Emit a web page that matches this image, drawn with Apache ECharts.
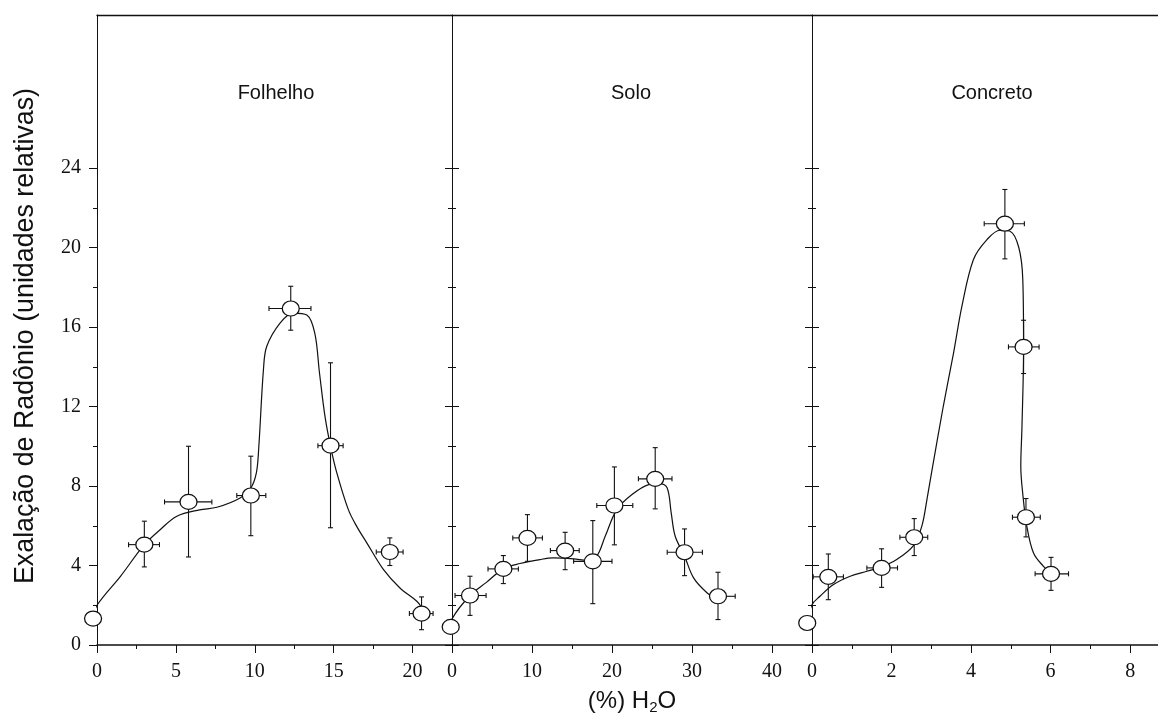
<!DOCTYPE html>
<html>
<head>
<meta charset="utf-8">
<script src="https://cdn.jsdelivr.net/npm/echarts@6/dist/echarts.min.js"></script>
<style>
html,body{margin:0;padding:0;background:#fff;overflow:hidden;}
#chart{width:1158px;height:717px;}
</style>
</head>
<body>
<div id="chart"></div>
<script>
// ---------- tick labels ----------
const yMajorTicks = [0, 4, 8, 12, 16, 20, 24];
const yMinorTicks = [2, 6, 10, 14, 18, 22];
const folMajorTicks = [0, 5, 10, 15, 20];
const folMinorTicks = [2.5, 7.5, 12.5, 17.5];
const solMajorTicks = [0, 10, 20, 30, 40];
const solMinorTicks = [5, 15, 25, 35];
const conMajorTicks = [0, 2, 4, 6, 8];
const conMinorTicks = [1, 3, 5, 7];
const panelTitles = ['Folhelho', 'Solo', 'Concreto'];
const yAxisTitle = 'Exalação de Radônio (unidades relativas)';

// ---------- Folhelho ----------
const folX   = [-0.25, 3.0, 5.8, 9.75, 12.28, 14.8, 18.56, 20.57];
const folY   = [1.33, 5.05, 7.2, 7.52, 16.93, 10.03, 4.68, 1.58];
const folXLo = [null, 2.0, 4.28, 8.86, 10.9, 14.0, 17.7, 19.8];
const folXHi = [null, 3.96, 7.28, 10.7, 13.56, 15.6, 19.4, 21.3];
const folYLo = [null, 3.93, 4.43, 5.5, 15.84, 5.9, 4.0, 0.77];
const folYHi = [null, 6.23, 10.0, 9.5, 18.05, 14.2, 5.39, 2.42];
const folCurveX = [-0.25, 0, 1.5, 3.0, 4.0, 5.06, 6.5, 7.6, 9.07, 9.75, 10.1, 10.25, 10.55, 10.76, 11.6, 12.44, 13.3, 13.8, 14.1, 14.45, 14.8, 15.2, 15.93, 16.46, 17.1, 18.16, 19.2, 20.27, 20.57];
const folCurveY = [1.33, 2.0, 3.47, 5.05, 5.8, 6.48, 6.8, 6.93, 7.4, 7.9, 8.66, 9.9, 13.86, 15.03, 16.2, 16.7, 16.6, 15.7, 13.7, 11.5, 10.0, 8.66, 6.81, 5.97, 5.14, 3.79, 2.87, 2.2, 1.9];

// ---------- Solo ----------
const solX   = [-0.16, 2.25, 6.42, 9.43, 14.14, 17.6, 20.3, 25.4, 29.07, 33.25];
const solY   = [0.91, 2.49, 3.83, 5.39, 4.75, 4.21, 7.02, 8.36, 4.67, 2.45];
const solXLo = [null, 0.38, 4.5, 7.6, 12.3, 15.2, 18.1, 23.3, 26.9, 32.3];
const solXHi = [null, 4.26, 8.3, 11.3, 15.9, 20.0, 22.6, 27.5, 31.3, 35.4];
const solYLo = [null, 1.49, 3.09, 4.21, 3.79, 2.08, 5.04, 6.85, 3.49, 1.28];
const solYHi = [null, 3.46, 4.5, 6.56, 5.67, 6.26, 8.96, 9.93, 5.84, 3.66];
const solCurveX = [-0.16, 0, 2.25, 4.3, 6.42, 8.5, 11.0, 12.7, 15.2, 16.9, 18.1, 19.15, 20.6, 22.5, 24.6, 26.0, 26.9, 27.4, 27.9, 29.07, 30.2, 31.9, 33.25];
const solCurveY = [0.91, 1.31, 2.49, 3.15, 3.83, 4.1, 4.3, 4.38, 4.33, 4.25, 4.47, 5.47, 6.81, 7.57, 8.07, 8.12, 7.9, 6.65, 5.47, 4.47, 3.38, 2.62, 2.28];

// ---------- Concreto ----------
const conX   = [-0.12, 0.41, 1.75, 2.57, 4.85, 5.32, 5.38, 6.01];
const conY   = [1.11, 3.43, 3.88, 5.42, 21.2, 15.0, 6.43, 3.58];
const conXLo = [null, 0.03, 1.38, 2.21, 4.33, 4.94, 5.04, 5.61];
const conXHi = [null, 0.79, 2.15, 2.91, 5.34, 5.71, 5.74, 6.45];
const conYLo = [null, 2.28, 2.9, 4.5, 19.43, 13.66, 5.44, 2.75];
const conYHi = [null, 4.58, 4.84, 6.36, 22.92, 16.34, 7.37, 4.41];
const conCurveX = [-0.12, 0, 0.2, 0.54, 0.96, 1.38, 1.75, 2.13, 2.55, 2.76, 2.89, 3.0, 3.3, 3.56, 3.77, 4.06, 4.4, 4.73, 4.98, 5.2, 5.3, 5.32, 5.28, 5.25, 5.3, 5.4, 5.57, 5.82, 6.01];
const conCurveY = [1.11, 2.03, 2.45, 3.04, 3.46, 3.71, 3.93, 4.3, 5.0, 5.97, 7.32, 8.6, 12.0, 14.7, 17.05, 19.4, 20.4, 20.87, 20.82, 20.0, 18.4, 15.0, 11.0, 9.0, 7.6, 6.0, 4.63, 3.96, 3.63];

// ---------- build ----------
const INK = '#111';
const SERIF = 'Liberation Serif';
const SANS = 'Liberation Sans';

const panels = [
  {x: folX, y: folY, xlo: folXLo, xhi: folXHi, ylo: folYLo, yhi: folYHi, cx: folCurveX, cy: folCurveY, maj: folMajorTicks, min: folMinorTicks, max: 22.5},
  {x: solX, y: solY, xlo: solXLo, xhi: solXHi, ylo: solYLo, yhi: solYHi, cx: solCurveX, cy: solCurveY, maj: solMajorTicks, min: solMinorTicks, max: 45},
  {x: conX, y: conY, xlo: conXLo, xhi: conXHi, ylo: conYLo, yhi: conYHi, cx: conCurveX, cy: conCurveY, maj: conMajorTicks, min: conMinorTicks, max: 8.7}
];

const grids = [
  {left: 97, top: 15, width: 355, height: 630},
  {left: 452, top: 15, width: 360, height: 630},
  {left: 812, top: 15, width: 346, height: 630}
].map(g => Object.assign(g, {show: false, containLabel: false, outerBoundsMode: 'none'}));

const Y_MAX = 31.7;
const xAxes = [];
const yAxes = [];
const series = [];
const yBaseIndex = [];
const xBaseIndex = [];

panels.forEach((p, g) => {
  xBaseIndex.push(xAxes.length);
  xAxes.push({
    type: 'value', gridIndex: g, min: 0, max: p.max, position: 'bottom',
    axisLine: {show: true, onZero: false, lineStyle: {color: INK, width: 1.5}},
    axisTick: {show: true, inside: false, length: 8, customValues: p.maj, lineStyle: {color: INK, width: 1}},
    axisLabel: {show: true, customValues: p.maj, margin: 17, fontFamily: SERIF, fontSize: 20, color: INK, showMaxLabel: true},
    splitLine: {show: false},
    name: g === 1 ? '(%) H{sub|2}O' : '',
    nameLocation: 'middle', nameGap: 42,
    nameTextStyle: {fontFamily: SANS, fontSize: 24, color: INK,
      rich: {sub: {fontFamily: SANS, fontSize: 15, color: INK, padding: [13, 0, 0, 0], verticalAlign: 'top'}}}
  });
  xAxes.push({
    type: 'value', gridIndex: g, min: 0, max: p.max, position: 'bottom',
    axisLine: {show: false, onZero: false},
    axisTick: {show: true, inside: false, length: 4, customValues: p.min, lineStyle: {color: INK, width: 1}},
    axisLabel: {show: false},
    splitLine: {show: false}
  });
  // top frame line
  xAxes.push({
    type: 'value', gridIndex: g, min: 0, max: p.max, position: 'top',
    axisLine: {show: true, onZero: false, lineStyle: {color: INK, width: 1.3}},
    axisTick: {show: false}, axisLabel: {show: false}, splitLine: {show: false}
  });

  yBaseIndex.push(yAxes.length);
  const baseY = {type: 'value', gridIndex: g, min: 0, max: Y_MAX, position: 'left', splitLine: {show: false}};
  if (g === 0) {
    yAxes.push(Object.assign({}, baseY, {
      axisLine: {show: true, onZero: false, lineStyle: {color: INK, width: 1}},
      axisTick: {show: true, inside: false, length: 8, customValues: yMajorTicks, lineStyle: {color: INK, width: 1}},
      axisLabel: {show: true, customValues: yMajorTicks, margin: 16, fontFamily: SERIF, fontSize: 20, color: INK},
      name: yAxisTitle, nameLocation: 'middle', nameGap: 58,
      nameTextStyle: {fontFamily: SANS, fontSize: 26.8, color: INK, padding: [0, 12, 0, 0]}
    }));
    yAxes.push(Object.assign({}, baseY, {
      axisLine: {show: false},
      axisTick: {show: true, inside: false, length: 4, customValues: yMinorTicks, lineStyle: {color: INK, width: 1}},
      axisLabel: {show: false}
    }));
  } else {
    [[yMajorTicks, 7, true], [yMajorTicks, 7, false], [yMinorTicks, 4, true], [yMinorTicks, 4, false]].forEach(([vals, len, inside], k) => {
      yAxes.push(Object.assign({}, baseY, {
        axisLine: {show: k === 0, onZero: false, lineStyle: {color: INK, width: 1}},
        axisTick: {show: true, inside: inside, length: len, customValues: vals, lineStyle: {color: INK, width: 1}},
        axisLabel: {show: false}
      }));
    });
  }

  const xi = xBaseIndex[g], yi = yBaseIndex[g];
  const curveData = p.cx.map((v, i) => [v, p.cy[i]]);
  series.push({
    type: 'line', xAxisIndex: xi, yAxisIndex: yi, data: curveData,
    smooth: 0.35, showSymbol: false, symbol: 'none', clip: false, z: 2,
    lineStyle: {color: INK, width: 1.2}
  });
  const errData = [];
  p.x.forEach((v, i) => {
    if (p.xlo[i] != null) errData.push([v, p.y[i], p.xlo[i], p.xhi[i], p.ylo[i], p.yhi[i]]);
  });
  series.push({
    type: 'custom', xAxisIndex: xi, yAxisIndex: yi, data: errData, z: 3, clip: false,
    encode: {x: 0, y: 1},
    renderItem: function (params, api) {
      const x = api.value(0), y = api.value(1);
      const c = api.coord([x, y]);
      const l = api.coord([api.value(2), y]);
      const r = api.coord([api.value(3), y]);
      const b = api.coord([x, api.value(4)]);
      const t = api.coord([x, api.value(5)]);
      const st = {stroke: INK, lineWidth: 1.1, fill: null};
      const cap = 2.5;
      const ln = (x1, y1, x2, y2) => ({type: 'line', shape: {x1, y1, x2, y2}, style: st});
      return {type: 'group', children: [
        ln(l[0], c[1], r[0], c[1]),
        ln(l[0], c[1] - cap, l[0], c[1] + cap),
        ln(r[0], c[1] - cap, r[0], c[1] + cap),
        ln(c[0], t[1], c[0], b[1]),
        ln(c[0] - cap, t[1], c[0] + cap, t[1]),
        ln(c[0] - cap, b[1], c[0] + cap, b[1])
      ]};
    }
  });
  series.push({
    type: 'scatter', xAxisIndex: xi, yAxisIndex: yi,
    data: p.x.map((v, i) => [v, p.y[i]]),
    symbol: 'circle', symbolSize: [17, 15], clip: false, z: 10,
    itemStyle: {color: '#fff', borderColor: INK, borderWidth: 1.2, opacity: 1}
  });
});

const titleCenters = [276, 631, 992];
const graphics = panelTitles.map((t, i) => ({
  type: 'text', x: titleCenters[i], y: 93, z: 20,
  style: {text: t, fontFamily: SANS, fontSize: 20, fill: INK, align: 'center', verticalAlign: 'middle'}
}));

const chart = echarts.init(document.getElementById('chart'), null, {renderer: 'canvas'});
chart.setOption({
  animation: false,
  backgroundColor: '#fff',
  grid: grids,
  xAxis: xAxes,
  yAxis: yAxes,
  series: series,
  graphic: graphics
});
</script>
</body>
</html>
